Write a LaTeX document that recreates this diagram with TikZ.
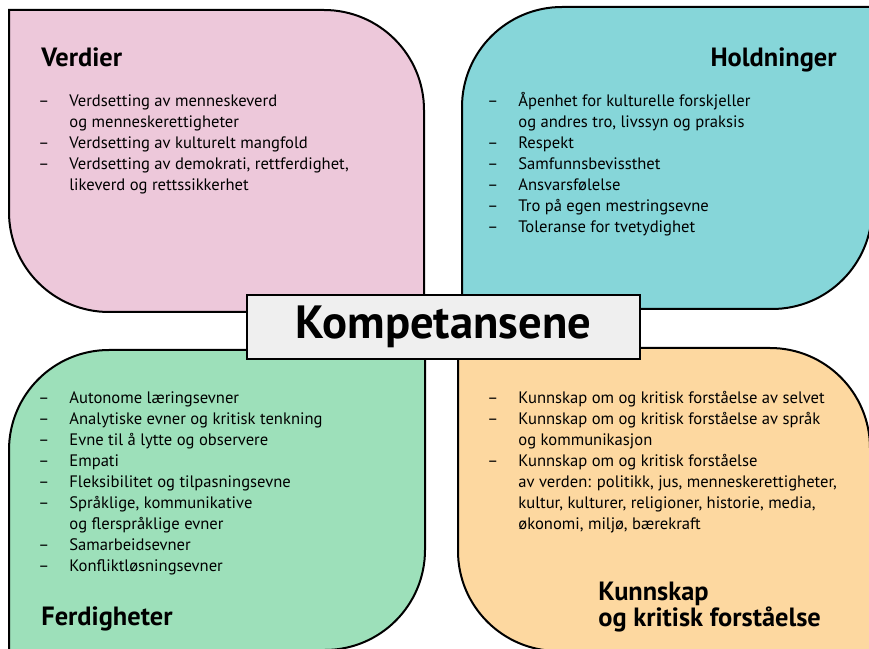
\documentclass[tikz,border=0pt]{standalone}
\usepackage{fontspec}
\setmainfont{PT Sans}

\definecolor{verdi}{HTML}{EDC8DA}
\definecolor{holdning}{HTML}{86D6D9}
\definecolor{ferdighet}{HTML}{9DE0BA}
\definecolor{kunnskap}{HTML}{FDD8A0}
\definecolor{midtfyll}{HTML}{EFEFEF}

\tikzset{
  quad/.style={draw=black, line width=1pt},
  itemlist/.style={anchor=base west, inner sep=0pt, font=\fontsize{8.3}{10.5}\selectfont},
  heading/.style={inner sep=0pt, font=\fontsize{13.2}{10.5}\selectfont\bfseries, align=left},
}
\newcommand{\listbegin}{\begin{tabular}[t]{@{}p{15.5pt}@{}l@{}}}
\newcommand{\listend}{\end{tabular}}

\begin{document}
\begin{tikzpicture}[x=0.5pt, y=0.5pt]
    \useasboundingbox (0,0) rectangle (869,649);

    % four corner shapes
    \draw[quad, fill=verdi] (9,639) -- (324,639) arc[start angle=90, end angle=0, radius=50pt]
        -- (424,337) -- (109,337) arc[start angle=270, end angle=180, radius=50pt] -- cycle;
    \draw[quad, fill=holdning] (462,542) arc[start angle=180, end angle=90, radius=50pt]
        -- (872,642) -- (872,440) arc[start angle=0, end angle=-90, radius=50pt] -- (462,340) -- cycle;
    \draw[quad, fill=ferdighet] (9,199) arc[start angle=180, end angle=90, radius=50pt]
        -- (425,299) -- (425,99) arc[start angle=0, end angle=-90, radius=50pt] -- (9,-2) -- cycle;
    \draw[quad, fill=kunnskap] (458,301) -- (770,301) arc[start angle=90, end angle=0, radius=50pt]
        -- (870,-2) -- (558,-2) arc[start angle=270, end angle=180, radius=50pt] -- cycle;

    % Verdier
    \node[heading, anchor=base west] (verdier) at (41,582) {Verdier};
    \node[itemlist] (verdierlist) at (38,542) {\listbegin
        -- & Verdsetting av menneskeverd\\
           & og menneskerettigheter\\
        -- & Verdsetting av kulturelt mangfold\\
        -- & Verdsetting av demokrati, rettferdighet,\\
           & likeverd og rettssikkerhet\\
        \listend};

    % Holdninger
    \node[heading, anchor=base east] (holdninger) at (837,582) {Holdninger};
    \node[itemlist] (holdningerlist) at (487,542) {\listbegin
        -- & Åpenhet for kulturelle forskjeller\\
           & og andres tro, livssyn og praksis\\
        -- & Respekt\\
        -- & Samfunnsbevissthet\\
        -- & Ansvarsfølelse\\
        -- & Tro på egen mestringsevne\\
        -- & Toleranse for tvetydighet\\
        \listend};

    % Ferdigheter
    \node[itemlist] (ferdigheterlist) at (38,245) {\listbegin
        -- & Autonome læringsevner\\
        -- & Analytiske evner og kritisk tenkning\\
        -- & Evne til å lytte og observere\\
        -- & Empati\\
        -- & Fleksibilitet og tilpasningsevne\\
        -- & Språklige, kommunikative\\
           & og flerspråklige evner\\
        -- & Samarbeidsevner\\
        -- & Konfliktløsningsevner\\
        \listend};
    \node[heading, anchor=base west] (ferdigheter) at (41,24) {Ferdigheter};

    % Kunnskap og kritisk forstaaelse
    \node[itemlist] (kunnskaplist) at (487,245) {\listbegin
        -- & Kunnskap om og kritisk forståelse av selvet\\
        -- & Kunnskap om og kritisk forståelse av språk\\
           & og kommunikasjon\\
        -- & Kunnskap om og kritisk forståelse\\
           & av verden: politikk, jus, menneskerettigheter,\\
           & kultur, kulturer, religioner, historie, media,\\
           & økonomi, miljø, bærekraft\\
        \listend};
    \node[heading, anchor=base west] (kunnskap) at (598,22) {Kunnskap\\og kritisk forståelse};

    % centre label
    \node[draw=black, line width=0.75pt, fill=midtfyll, minimum width=196.5pt, minimum height=32pt,
          inner sep=0pt, font=\fontsize{23.3}{24}\selectfont\bfseries] (kompetansene) at (443.5,322) {Kompetansene};
\end{tikzpicture}
\end{document}
